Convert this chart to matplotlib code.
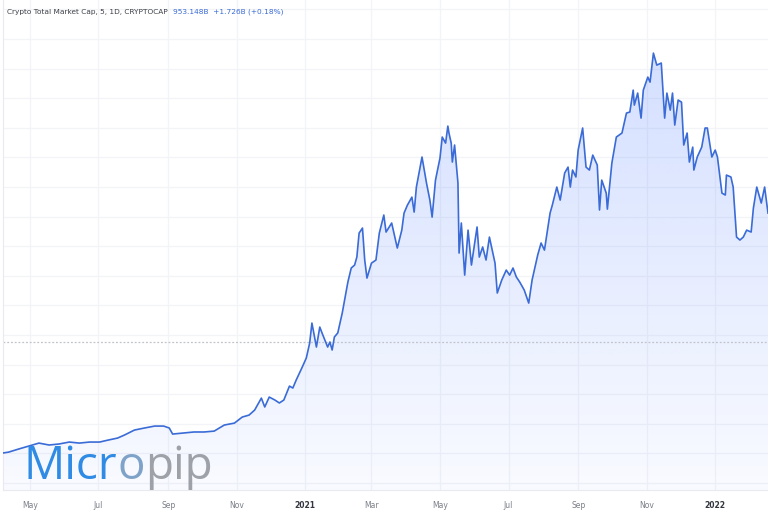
import numpy as np
import matplotlib
matplotlib.use("Agg")
import matplotlib.pyplot as plt
import matplotlib.dates as mdates
from matplotlib.patches import Polygon

# ---------------- data (USD billions) ----------------
dates = [
    "2020-04-07", "2020-04-12", "2020-04-21", "2020-04-30", "2020-05-09", "2020-05-18",
    "2020-05-27", "2020-06-05", "2020-06-14", "2020-06-23", "2020-07-02", "2020-07-10",
    "2020-07-18", "2020-07-24", "2020-08-02", "2020-08-11", "2020-08-20", "2020-08-28",
    "2020-09-02", "2020-09-05", "2020-09-15", "2020-09-24", "2020-10-03", "2020-10-12",
    "2020-10-21", "2020-10-30", "2020-11-06", "2020-11-12", "2020-11-17", "2020-11-23",
    "2020-11-26", "2020-11-30", "2020-12-05", "2020-12-09", "2020-12-13", "2020-12-18",
    "2020-12-21", "2020-12-24", "2020-12-29", "2021-01-02", "2021-01-05", "2021-01-07",
    "2021-01-11", "2021-01-14", "2021-01-16", "2021-01-21", "2021-01-23", "2021-01-25",
    "2021-01-27", "2021-01-30", "2021-02-03", "2021-02-08", "2021-02-11", "2021-02-14",
    "2021-02-16", "2021-02-18", "2021-02-21", "2021-02-23", "2021-02-25", "2021-03-01",
    "2021-03-05", "2021-03-08", "2021-03-12", "2021-03-14", "2021-03-19", "2021-03-21",
    "2021-03-24", "2021-03-28", "2021-03-30", "2021-04-02", "2021-04-06", "2021-04-08",
    "2021-04-10", "2021-04-15", "2021-04-17", "2021-04-19", "2021-04-22", "2021-04-24",
    "2021-04-27", "2021-05-01", "2021-05-03", "2021-05-06", "2021-05-08", "2021-05-09",
    "2021-05-11", "2021-05-12", "2021-05-14", "2021-05-17", "2021-05-18", "2021-05-20",
    "2021-05-23", "2021-05-26", "2021-05-29", "2021-06-03", "2021-06-05", "2021-06-08",
    "2021-06-11", "2021-06-14", "2021-06-19", "2021-06-21", "2021-06-25", "2021-06-29",
    "2021-07-02", "2021-07-05", "2021-07-08", "2021-07-11", "2021-07-15", "2021-07-19",
    "2021-07-22", "2021-07-27", "2021-07-30", "2021-08-02", "2021-08-07", "2021-08-09",
    "2021-08-13", "2021-08-16", "2021-08-20", "2021-08-23", "2021-08-25", "2021-08-27",
    "2021-08-30", "2021-09-01", "2021-09-05", "2021-09-08", "2021-09-11", "2021-09-14",
    "2021-09-18", "2021-09-20", "2021-09-22", "2021-09-26", "2021-09-27", "2021-10-01",
    "2021-10-05", "2021-10-10", "2021-10-14", "2021-10-17", "2021-10-20", "2021-10-21",
    "2021-10-24", "2021-10-27", "2021-10-29", "2021-11-02", "2021-11-04", "2021-11-07",
    "2021-11-10", "2021-11-14", "2021-11-17", "2021-11-19", "2021-11-22", "2021-11-24",
    "2021-11-26", "2021-11-29", "2021-12-02", "2021-12-04", "2021-12-07", "2021-12-09",
    "2021-12-12", "2021-12-13", "2021-12-16", "2021-12-20", "2021-12-23", "2021-12-25",
    "2021-12-29", "2022-01-01", "2022-01-03", "2022-01-07", "2022-01-10", "2022-01-11",
    "2022-01-15", "2022-01-17", "2022-01-20", "2022-01-23", "2022-01-26", "2022-01-29",
    "2022-02-02", "2022-02-04", "2022-02-07", "2022-02-11", "2022-02-14", "2022-02-17",
]
market_cap = [
    203, 209, 230, 250, 270, 257,
    264, 277, 270, 277, 277, 291,
    304, 324, 358, 372, 385, 385,
    372, 331, 338, 345, 345, 351,
    392, 405, 446, 459, 493, 574,
    514, 581, 561, 541, 561, 655,
    642, 696, 777, 845, 946, 1081,
    919, 1054, 1014, 919, 953, 899,
    987, 1014, 1149, 1358, 1453, 1473,
    1527, 1689, 1723, 1507, 1385, 1486,
    1507, 1689, 1811, 1696, 1757, 1689,
    1588, 1709, 1824, 1878, 1932, 1831,
    2000, 2203, 2115, 2027, 1912, 1797,
    2047, 2196, 2338, 2297, 2412, 2365,
    2297, 2169, 2284, 2027, 1554, 1757,
    1405, 1709, 1473, 1730, 1527, 1595,
    1507, 1662, 1486, 1284, 1372, 1439,
    1405, 1453, 1392, 1358, 1304, 1216,
    1372, 1541, 1622, 1574, 1824, 1878,
    2000, 1912, 2095, 2135, 2000, 2115,
    2068, 2250, 2399, 2135, 2115, 2216,
    2149, 1845, 2047, 1959, 1851, 2162,
    2338, 2365, 2500, 2507, 2655, 2554,
    2635, 2466, 2655, 2743, 2709, 2905,
    2824, 2838, 2466, 2635, 2520, 2635,
    2419, 2588, 2574, 2284, 2365, 2169,
    2270, 2115, 2203, 2270, 2399, 2399,
    2203, 2250, 2203, 1959, 1946, 2081,
    2068, 2000, 1662, 1642, 1662, 1709,
    1696, 1858, 2000, 1892, 2000, 1824,
]
last_price = 953.148
header_title = "Crypto Total Market Cap, 5, 1D, CRYPTOCAP"
header_values = "953.148B  +1.726B (+0.18%)"
tick_dates = ["2020-05-01", "2020-07-01", "2020-09-01", "2020-11-01", "2021-01-01",
              "2021-03-01", "2021-05-01", "2021-07-01", "2021-09-01", "2021-11-01",
              "2022-01-01"]
tick_labels = ["May", "Jul", "Sep", "Nov", "2021", "Mar", "May", "Jul", "Sep", "Nov", "2022"]

# ---------------- figure ----------------
W, H = 768, 512
fig = plt.figure(figsize=(W / 100, H / 100), dpi=100)
fig.patch.set_facecolor("white")
ax = fig.add_axes([3 / W, 22 / H, 1 - 3 / W, 1 - 22 / H])
ax.set_facecolor("white")

x = mdates.date2num(np.array(dates, dtype="datetime64[D]"))
y = np.array(market_cap, dtype=float)

xmin = mdates.date2num(np.datetime64("2020-04-07"))
xmax = mdates.date2num(np.datetime64("2022-02-17"))
ymin, ymax = -47, 3264
ax.set_xlim(xmin, xmax)
ax.set_ylim(ymin, ymax)

# grid
grid_c = "#f3f4f7"
for gy in np.arange(0, 3400, 200):
    ax.axhline(gy, color=grid_c, lw=0.9, zorder=0)
tnum = mdates.date2num(np.array(tick_dates, dtype="datetime64[D]"))
for tx in tnum:
    ax.axvline(tx, color=grid_c, lw=0.9, zorder=0)

# gradient fill under the line
grad = np.linspace(0, 1, 256).reshape(-1, 1)
rgba = np.zeros((256, 1, 4))
base = np.array([41, 98, 255]) / 255.0
rgba[..., 0] = base[0]
rgba[..., 1] = base[1]
rgba[..., 2] = base[2]
top_v = max(market_cap)
rgba[..., 3] = (0.03 + 0.17 * grad)[:, :]
im = ax.imshow(rgba, extent=[xmin, xmax, ymin, top_v], origin="lower",
               aspect="auto", zorder=1, interpolation="bilinear")
poly_xy = np.vstack([np.column_stack([x, y]),
                     [[x[-1], ymin], [x[0], ymin]]])
clip = Polygon(poly_xy, closed=True, facecolor="none", edgecolor="none",
               transform=ax.transData)
ax.add_patch(clip)
im.set_clip_path(clip)

ax.plot(x, y, color="#3a6bd6", lw=1.2, zorder=3, solid_joinstyle="round")

# last price dashed line
ax.axhline(last_price, color="#c0c3cb", lw=0.9, ls=(0, (1.5, 1.5)), zorder=2)

# axes styling
for s in ["top", "right"]:
    ax.spines[s].set_visible(False)
ax.spines["left"].set_color("#e8eaef")
ax.spines["bottom"].set_color("#e8eaef")
ax.set_yticks([])
ax.set_xticks(tnum)
ax.set_xticklabels(tick_labels)
ax.tick_params(axis="x", length=0, pad=8, labelsize=5.5, colors="#7a7e88")
for lbl in ax.get_xticklabels():
    if lbl.get_text() in ("2021", "2022"):
        lbl.set_color("#333640")
        lbl.set_fontweight("bold")

# header
th = fig.text(7 / W, 1 - 12 / H, header_title, fontsize=5.3, color="#3c3f48",
              va="center", ha="left")
fig.canvas.draw()
hb = th.get_window_extent()
fig.text((hb.x1 + 5) / W, 1 - 12 / H, header_values, fontsize=5.3, color="#3a6bd6",
         va="center", ha="left")

# watermark
wm_y = 1 - 467 / H
t1 = fig.text(24 / W, wm_y, "Micr", fontsize=33, color="#2f8be3",
              va="center", ha="left", family="Open Sans")
fig.canvas.draw()
bb = t1.get_window_extent()
t2 = fig.text(bb.x1 / W, wm_y, "o", fontsize=33, color="#7fa3c8",
              va="center", ha="left", family="Open Sans")
fig.canvas.draw()
bb2 = t2.get_window_extent()
fig.text(bb2.x1 / W, wm_y, "pip", fontsize=33, color="#9ea2a8",
         va="center", ha="left", family="Open Sans")

fig.savefig("out.png", dpi=100)
